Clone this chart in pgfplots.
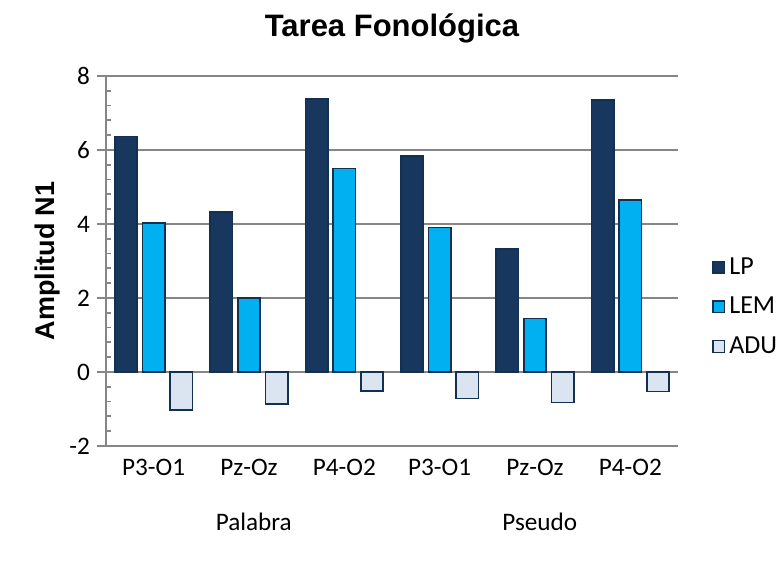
\documentclass[border=0pt]{standalone}
\usepackage{fontspec}
\setmainfont{Carlito}
\newfontfamily\arialfont{Liberation Sans}
\usepackage{pgfplots}
\pgfplotsset{compat=1.18}
\definecolor{lpblue}{HTML}{17375E}
\definecolor{lemblue}{HTML}{00B0F0}
\definecolor{adublue}{HTML}{DBE5F1}
\definecolor{edgeblue}{HTML}{14304F}
\definecolor{gridgray}{HTML}{868686}

\pgfplotsset{sqlegend/.style={legend image code/.code={
  \draw[##1, line width=0.7pt] (0pt,-2.9pt) rectangle (5.8pt,2.9pt);}}}

\begin{document}
\begin{tikzpicture}
\useasboundingbox (-53pt,-60pt) rectangle (338pt,223pt);
\begin{axis}[
  scale only axis, width=286pt, height=185pt,
  ybar, clip=false,
  xmin=-0.5, xmax=5.5, ymin=-2, ymax=8,
  xtick={0,...,5},
  xticklabels={P3-O1,Pz-Oz,P4-O2,P3-O1,Pz-Oz,P4-O2},
  ytick={-2,0,2,4,6,8}, yticklabels={-2,0,2,4,6,8},
  minor y tick num=4,
  axis lines*=left,
  x axis line style={draw=none},
  major x tick style={draw=none},
  y axis line style={gridgray, line width=1pt},
  ymajorgrids,
  major grid style={gridgray, line width=1pt},
  tick align=outside,
  major tick length=4.5pt, minor tick length=2.5pt,
  major y tick style={gridgray, line width=0.9pt},
  minor y tick style={gridgray, line width=0.9pt, xshift=2.5pt},
  tick label style={font=\fontsize{12.6}{14}\selectfont, black},
  xticklabel style={yshift=1.5pt},
  bar width=0.235,
  legend style={at={(1,0.376)}, anchor=west, xshift=14pt, draw=none, fill=none,
    font=\fontsize{13}{15}\selectfont, row sep=6pt},
  legend cell align=left,
]
\addplot[fill=lpblue, draw=edgeblue, line width=0.8pt, bar shift=-0.29, sqlegend] coordinates {
  (0,6.36) (1,4.32) (2,7.38) (3,5.83) (4,3.33) (5,7.35)};
\addlegendentry{LP}
\addplot[fill=lemblue, draw=edgeblue, line width=0.8pt, bar shift=0, sqlegend] coordinates {
  (0,4.03) (1,2.00) (2,5.50) (3,3.90) (4,1.45) (5,4.65)};
\addlegendentry{LEM}
\addplot[fill=adublue, draw=edgeblue, line width=0.8pt, bar shift=0.29, sqlegend] coordinates {
  (0,-1.02) (1,-0.87) (2,-0.52) (3,-0.72) (4,-0.82) (5,-0.53)};
\addlegendentry{ADU}

\node[font=\arialfont\bfseries\fontsize{15.5}{18}\selectfont] at ([yshift=24pt]rel axis cs:0.5,1) {Tarea Fonológica};
\node[rotate=90, font=\arialfont\bfseries\fontsize{13.5}{16}\selectfont] at ([xshift=-29pt]rel axis cs:0,0.5) {Amplitud N1};
\node[font=\fontsize{12.6}{14}\selectfont] at ([yshift=-38pt]axis cs:1.05,-2) {Palabra};
\node[font=\fontsize{12.6}{14}\selectfont] at ([yshift=-38pt]axis cs:4.05,-2) {Pseudo};
\end{axis}
\end{tikzpicture}
\end{document}
